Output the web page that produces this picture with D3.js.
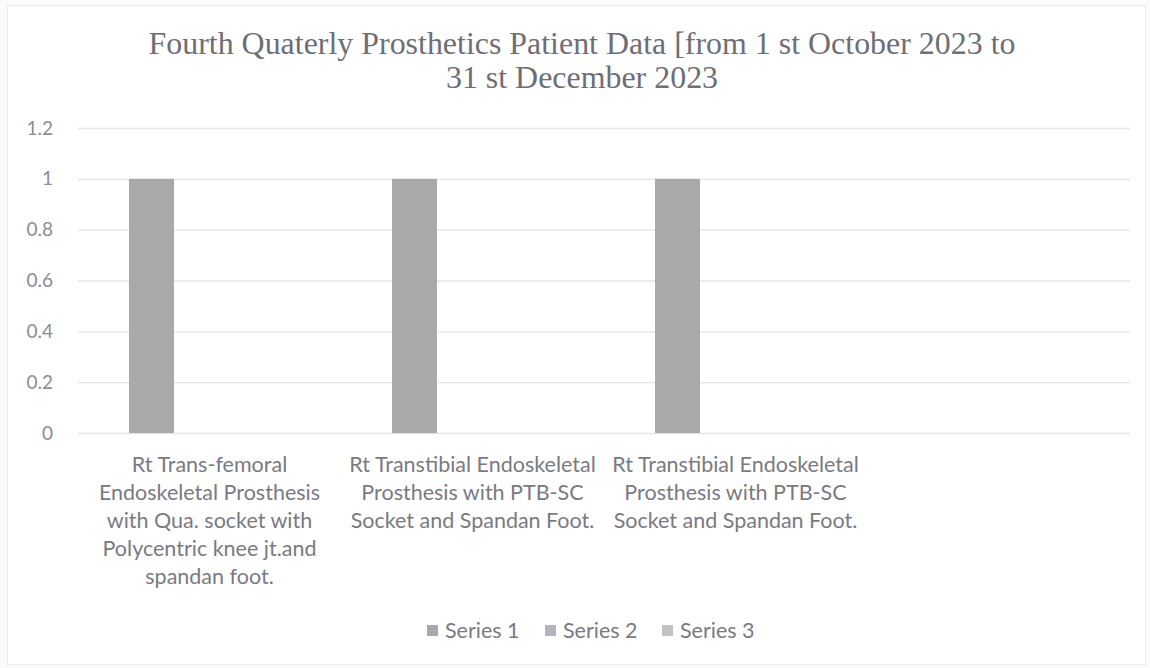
<!DOCTYPE html>
<html>
<head>
<meta charset="utf-8">
<script src="https://cdn.jsdelivr.net/npm/d3@7"></script>
<style>
  html, body { margin: 0; padding: 0; background: #fbfbfc; }
  svg { display: block; }
</style>
</head>
<body>
<svg id="chart" width="1150" height="668"></svg>
<script>
// ---- data ----
const titleLines = ["Fourth Quaterly Prosthetics Patient Data [from 1 st October 2023 to", "31 st December 2023"];
const categories = [
  "Rt Trans-femoral Endoskeletal Prosthesis with Qua. socket with Polycentric knee jt.and spandan foot.",
  "Rt Transtibial Endoskeletal Prosthesis with PTB-SC Socket and Spandan Foot.",
  "Rt Transtibial Endoskeletal Prosthesis with PTB-SC Socket and Spandan Foot.",
  ""
];
const seriesNames = ["Series 1", "Series 2", "Series 3"];
const series1 = [1, 1, 1, null];
const series2 = [null, null, null, null];
const series3 = [null, null, null, null];
const yTicks = [0, 0.2, 0.4, 0.6, 0.8, 1, 1.2];

// ---- layout ----
const W = 1150, H = 668;
const plot = { left: 78, right: 1130, top: 128, bottom: 433 };
const colors = ["#a9a9ac", "#b4b4bc", "#c2c2c6"];
const textGray = "#7a7a82";
const sans = "Lato, 'Open Sans', sans-serif";

const svg = d3.select("#chart");
svg.append("rect").attr("x", 0).attr("y", 0).attr("width", W).attr("height", H).attr("fill", "#fbfbfc");
svg.append("rect").attr("x", 7.5).attr("y", 5.5).attr("width", W - 12).attr("height", H - 9)
  .attr("fill", "#ffffff").attr("stroke", "#ececf0").attr("stroke-width", 1);

const x = d3.scaleBand().domain(d3.range(categories.length)).range([plot.left, plot.right]).paddingInner(0).paddingOuter(0);
const xs = d3.scaleBand().domain(seriesNames).range([-87, 87]).paddingInner(0.224).paddingOuter(0.112);
const y = d3.scaleLinear().domain([0, 1.2]).range([plot.bottom, plot.top]);

// title
const title = svg.append("g").attr("font-family", "'Liberation Serif', 'Times New Roman', serif")
  .attr("fill", "#6e6e74").attr("text-anchor", "middle");
title.selectAll("text").data(titleLines).join("text")
  .attr("x", 582).attr("y", (d, i) => 54 + i * 34)
  .attr("font-size", 31).text(d => d);
const t0 = title.select("text").node();
const len0 = t0.getComputedTextLength();
const target = 867;
title.selectAll("text").attr("textLength", function(d, i) {
  return this.getComputedTextLength() * target / len0;
}).attr("lengthAdjust", "spacingAndGlyphs");

// gridlines + y axis
const yAxis = d3.axisLeft(y).tickValues(yTicks).tickSize(-(plot.right - plot.left)).tickFormat(d3.format("~g"));
const gy = svg.append("g").attr("transform", `translate(${plot.left},0)`).call(yAxis);
gy.select(".domain").remove();
gy.selectAll(".tick line").attr("stroke", "#e4e4ea").attr("stroke-width", 1.3);
gy.selectAll(".tick text").attr("x", -25).attr("font-family", sans)
  .attr("font-size", 19).attr("fill", "#8c8c94");

// bars
const allSeries = [series1, series2, series3];
const barData = [];
allSeries.forEach((vals, si) => vals.forEach((v, ci) => {
  if (v !== null) barData.push({ s: seriesNames[si], si, ci, v });
}));
svg.append("g").selectAll("rect").data(barData).join("rect")
  .attr("x", d => x(d.ci) + x.bandwidth() / 2 + xs(d.s))
  .attr("width", xs.bandwidth())
  .attr("y", d => y(d.v))
  .attr("height", d => y(0) - y(d.v))
  .attr("fill", d => colors[d.si]);

// category labels (wrapped)
const lab = svg.append("g").attr("font-family", sans).attr("font-size", 21.5)
  .attr("fill", textGray).attr("text-anchor", "middle");
const maxW = x.step() - 4;
categories.forEach((c, ci) => {
  if (!c) return;
  const cx = x(ci) + x.bandwidth() / 2;
  const t = lab.append("text").attr("x", cx).attr("y", 472);
  const words = c.split(" ");
  let line = [];
  let tspan = t.append("tspan").attr("x", cx).attr("dy", 0);
  words.forEach(w => {
    line.push(w);
    tspan.text(line.join(" "));
    if (tspan.node().getComputedTextLength() > maxW && line.length > 1) {
      line.pop();
      tspan.text(line.join(" "));
      line = [w];
      tspan = t.append("tspan").attr("x", cx).attr("dy", 28).text(w);
    }
  });
});

// legend
const leg = svg.append("g").attr("font-family", sans).attr("font-size", 21.5).attr("fill", textGray);
const legX = [427, 545, 662];
seriesNames.forEach((s, i) => {
  leg.append("rect").attr("x", legX[i]).attr("y", 625).attr("width", 11).attr("height", 11).attr("fill", colors[i]);
  leg.append("text").attr("x", legX[i] + 18).attr("y", 638).text(s);
});
</script>
</body>
</html>
